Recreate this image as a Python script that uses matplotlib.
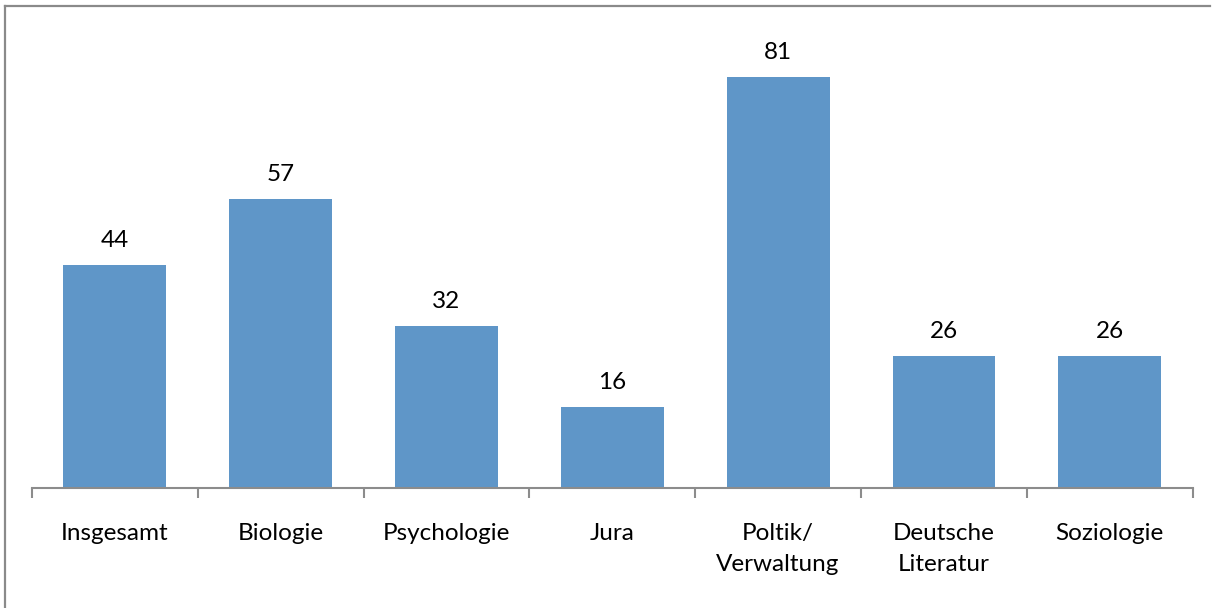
import matplotlib

matplotlib.use("Agg")
import matplotlib.pyplot as plt
from matplotlib.lines import Line2D
import numpy as np

# values
categories = ["Insgesamt", "Biologie", "Psychologie", "Jura", "Poltik/\nVerwaltung",
              "Deutsche\nLiteratur", "Soziologie"]
values = [44, 57, 32, 16, 81, 26, 26]

BAR_COLOR = "#5f96c8"
AXIS_COLOR = "#8c8c8c"

plt.rcParams["font.family"] = ["Lato", "DejaVu Sans"]

fig = plt.figure(figsize=(12.12, 6.08), dpi=100)
ax = fig.add_axes([0.0264, 0.1974, 0.9576, 0.7516])

x = np.arange(len(categories))
bars = ax.bar(x, values, width=0.62, color=BAR_COLOR, zorder=2)

for rect, v in zip(bars, values):
    ax.annotate(f"{v}", (rect.get_x() + rect.get_width() / 2, rect.get_height()),
                xytext=(0, 10), textcoords="offset points",
                ha="center", va="bottom", fontsize=17.5, color="#000000")

ax.set_xlim(-0.5, len(categories) - 0.5)
ax.set_ylim(0, 90)

# category labels centred, tick marks on the category boundaries
ax.set_xticks(x)
ax.set_xticklabels(categories, fontsize=17.5, linespacing=1.6)
ax.tick_params(axis="x", which="major", length=0, pad=25)
ax.set_xticks(np.arange(-0.5, len(categories)), minor=True)
ax.tick_params(axis="x", which="minor", length=7, width=1.5, color=AXIS_COLOR, direction="out")
ax.set_yticks([])

for side in ("top", "right", "left"):
    ax.spines[side].set_visible(False)
ax.spines["bottom"].set_color(AXIS_COLOR)
ax.spines["bottom"].set_linewidth(1.5)

# chart-area border (only top and left edges are visible in the reference)
fig.add_artist(Line2D([0.0045, 0.9985], [0.9905, 0.9905], transform=fig.transFigure,
                      color="#8a8a8a", linewidth=1.6))
fig.add_artist(Line2D([0.0045, 0.0045], [0.0, 0.9905], transform=fig.transFigure,
                      color="#8a8a8a", linewidth=1.6))

fig.savefig("out.png", dpi=100)
